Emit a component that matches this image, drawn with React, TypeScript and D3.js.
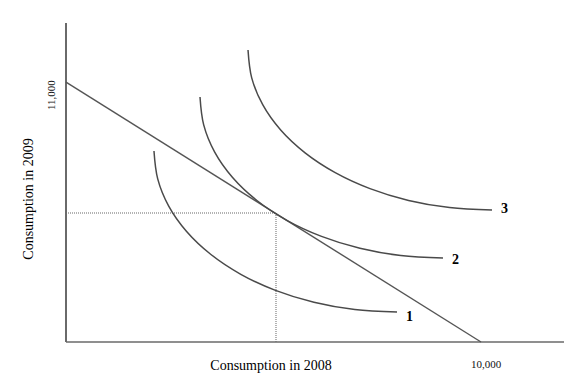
import React from "react";
import * as d3 from "d3";

// Indifference curves (Consumption in 2008, Consumption in 2009)
const curve1: [number, number][] = [
  [2120, 8083], [2210, 6903], [2475, 5751], [2906, 4677], [3492, 3703],
  [4212, 2865], [5048, 2184], [5974, 1680], [6959, 1371], [7976, 1270],
];
const curve2: [number, number][] = [
  [3229, 10368], [3318, 9187], [3583, 8035], [4014, 6961], [4600, 5987],
  [5320, 5150], [6157, 4469], [7082, 3965], [8067, 3656], [9084, 3554],
];
const curve3: [number, number][] = [
  [4386, 12357], [4475, 11178], [4740, 10041], [5173, 8970], [5761, 8005],
  [6487, 7168], [7325, 6491], [8255, 5991], [9243, 5687], [10265, 5586],
];
const curveLabels = ["1", "2", "3"];
const budgetLine: [number, number][] = [[0, 11000], [10000, 0]];
const tangency: [number, number] = [5060, 5460];
const xTickLabel = "10,000";
const yTickLabel = "11,000";
const xTitle = "Consumption in 2008";
const yTitle = "Consumption in 2009";

const W = 567;
const H = 379;

export default function App() {
  const x = d3.scaleLinear().domain([0, 12000]).range([66, 564]);
  const y = d3.scaleLinear().domain([0, 13500]).range([342, 23]);
  const line = d3
    .line<[number, number]>()
    .x((d) => x(d[0]))
    .y((d) => y(d[1]))
    .curve(d3.curveCatmullRom.alpha(0.5));
  const straight = d3
    .line<[number, number]>()
    .x((d) => x(d[0]))
    .y((d) => y(d[1]));
  const curves = [curve1, curve2, curve3];
  const labelOffsets = [
    [9, 9],
    [9, 6],
    [9, 3],
  ];
  const serif = "'Liberation Serif', 'Times New Roman', serif";
  return (
    <svg
      width={W}
      height={H}
      style={{ position: "absolute", left: 0, top: 0, background: "#fff" }}
      fontFamily={serif}
    >
      {/* dotted guides */}
      <path
        d={straight([[0, tangency[1]], tangency]) || ""}
        stroke="#9a9a9a"
        strokeWidth={1.5}
        strokeDasharray="1,1"
        fill="none"
      />
      <path
        d={straight([tangency, [tangency[0], 0]]) || ""}
        stroke="#9a9a9a"
        strokeWidth={1.5}
        strokeDasharray="1,1"
        fill="none"
      />
      {/* axes */}
      <line x1={x(0)} x2={x(0)} y1={y(13500)} y2={y(0)} stroke="#6a6a6a" strokeWidth={2} />
      <line x1={x(0)} x2={x(12000)} y1={y(0)} y2={y(0)} stroke="#6a6a6a" strokeWidth={1.5} />
      {/* budget line */}
      <path d={straight(budgetLine) || ""} stroke="#555" strokeWidth={1.4} fill="none" />
      {/* indifference curves */}
      {curves.map((c, i) => (
        <g key={i}>
          <path d={line(c) || ""} stroke="#4a4a4a" strokeWidth={1.5} fill="none" />
          <text
            x={x(c[c.length - 1][0]) + labelOffsets[i][0]}
            y={y(c[c.length - 1][1]) + labelOffsets[i][1]}
            fontSize={14}
            fontWeight="bold"
            fill="#000"
          >
            {curveLabels[i]}
          </text>
        </g>
      ))}
      {/* tick labels */}
      <text x={x(10000) + 5} y={368} fontSize={11} textAnchor="middle" fill="#111">
        {xTickLabel}
      </text>
      <text
        transform={`translate(55, ${y(11000) + 13}) rotate(-90)`}
        fontSize={11}
        textAnchor="middle"
        fill="#111"
      >
        {yTickLabel}
      </text>
      {/* axis titles */}
      <text x={271} y={370} fontSize={14} textAnchor="middle" fill="#000">
        {xTitle}
      </text>
      <text
        transform="translate(33, 199) rotate(-90)"
        fontSize={14}
        textAnchor="middle"
        fill="#000"
      >
        {yTitle}
      </text>
    </svg>
  );
}
